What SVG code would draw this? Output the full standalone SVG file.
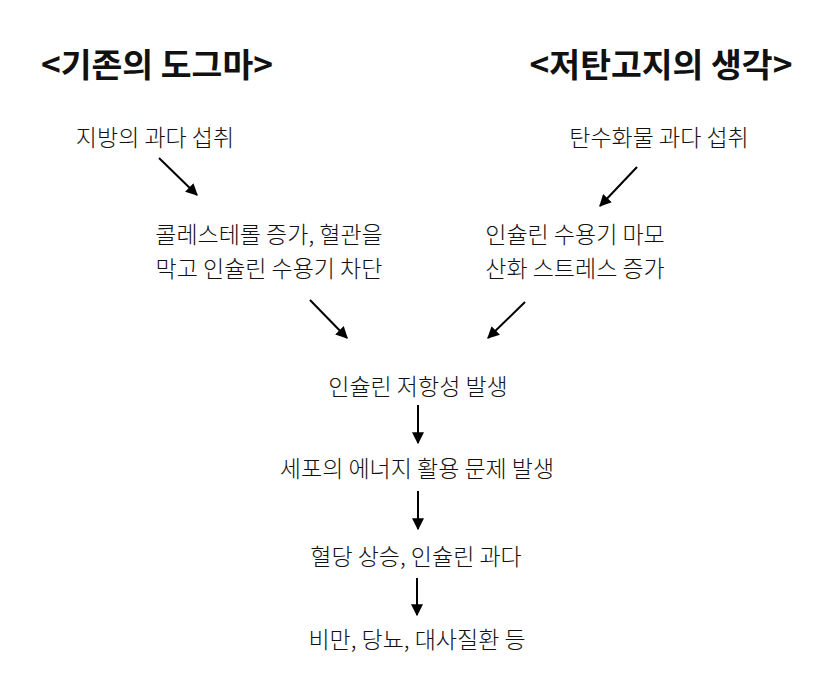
<svg xmlns="http://www.w3.org/2000/svg" width="834" height="695" viewBox="0 0 834 695">
<style>
text{font-family:"Noto Sans CJK KR","Noto Sans",sans-serif;fill:#111;text-anchor:middle;dominant-baseline:central}
.t{font-size:33.5px;font-weight:bold}
.n{font-size:23px;font-weight:300}
.c{stroke:#000;stroke-width:2;fill:none;marker-end:url(#ah)}
</style>
<defs>
<marker id="ah" viewBox="0 0 10 10" refX="9" refY="5" markerWidth="6" markerHeight="6" orient="auto" markerUnits="strokeWidth">
<path d="M0,0 L10,5 L0,10 z" fill="#000"/>
</marker>
</defs>
<rect width="834" height="695" fill="#fff"/>
<g id="title-left"><text class="t" x="157" y="62">&lt;기존의 도그마&gt;</text></g>
<g id="title-right"><text class="t" x="661" y="62">&lt;저탄고지의 생각&gt;</text></g>
<g id="fat"><text class="n" x="155" y="136">지방의 과다 섭취</text></g>
<g id="carb"><text class="n" x="659" y="136">탄수화물 과다 섭취</text></g>
<g id="chol"><text class="n" x="269" y="233">콜레스테롤 증가, 혈관을</text><text class="n" x="269" y="267">막고 인슐린 수용기 차단</text></g>
<g id="wear"><text class="n" x="575" y="233">인슐린 수용기 마모</text><text class="n" x="575" y="267">산화 스트레스 증가</text></g>
<g id="resist"><text class="n" x="418" y="385">인슐린 저항성 발생</text></g>
<g id="energy"><text class="n" x="417" y="467">세포의 에너지 활용 문제 발생</text></g>
<g id="sugar"><text class="n" x="416" y="555">혈당 상승, 인슐린 과다</text></g>
<g id="disease"><text class="n" x="417" y="638">비만, 당뇨, 대사질환 등</text></g>
<g id="connectors">
<line class="c" x1="159" y1="158" x2="197" y2="195"/>
<line class="c" x1="637" y1="167" x2="600" y2="206"/>
<line class="c" x1="310" y1="300" x2="347" y2="338"/>
<line class="c" x1="525" y1="302" x2="488" y2="338"/>
<line class="c" x1="418" y1="405" x2="418" y2="443"/>
<line class="c" x1="418" y1="491" x2="418" y2="529"/>
<line class="c" x1="417" y1="578" x2="417" y2="615"/>
</g>
</svg>
